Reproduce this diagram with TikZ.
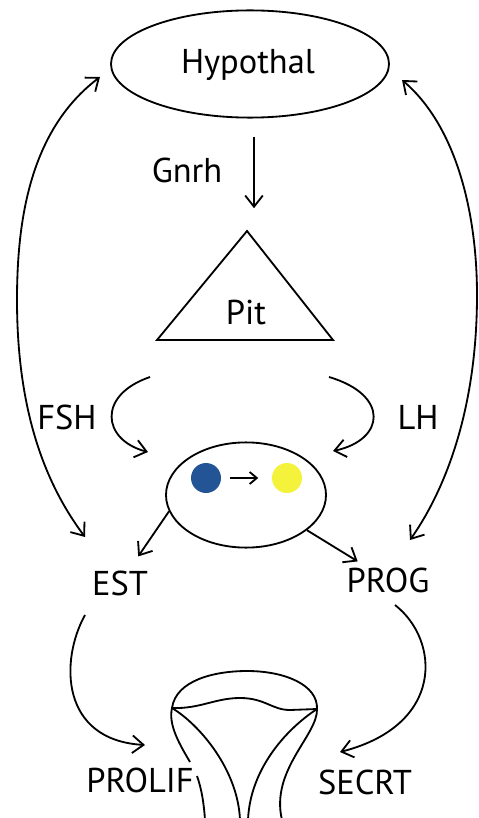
\documentclass[tikz,border=0pt]{standalone}
\usepackage{fontspec}
\setmainfont{PT Sans}
\usepackage{xcolor}
\usetikzlibrary{arrows.meta}
\usetikzlibrary{shapes.geometric}
\usetikzlibrary{positioning}

\definecolor{dotblue}{RGB}{34,84,150}
\definecolor{dotyellow}{RGB}{244,242,58}

\begin{document}
\begin{tikzpicture}[x=0.25mm, y=-0.25mm,
    line width=1.3pt,
    >={Straight Barb[length=2.8mm,width=4.4mm]}]
    \tikzstyle{every node}=[font=\fontsize{24.5}{28}\selectfont, inner sep=0pt]
    \tikzstyle{oval}=[ellipse, draw, line width=1.3pt]
    \tikzstyle{dot}=[circle, minimum size=7.5mm]
    \useasboundingbox (0,0) rectangle (479,818);
    \clip (0,0) rectangle (479,818);

    % brain, pituitary and the ovary
    \node[oval, minimum width=69.5mm, minimum height=26.8mm] (hyp) at (250,64) {};
    \node (hyptext) at (248,65) {Hypothal};
    \node (gnrh) at (187,170) {Gnrh};
    \coordinate (pA) at (247,231);
    \coordinate (pL) at (157,340);
    \coordinate (pR) at (333,340);
    \draw (pA) -- (pR) -- (pL) -- cycle;
    \node (pit) at (246,313) {Pit};
    \node[oval, minimum width=40mm, minimum height=26.3mm] (cell) at (246,495) {};
    \node[dot, fill=dotblue] (fol) at (206,478) {};
    \node[dot, fill=dotyellow] (cl) at (287,478) {};

    \node (fsh) at (67,417) {FSH};
    \node (lh) at (418,417) {LH};
    \node (est) at (120,583) {EST};
    \node (prog) at (388,580) {PROG};
    \node (prolif) at (140,780) {PROLIF};
    \node (secrt) at (365,782) {SECRT};

    % loose ends of the curved arrows
    \coordinate (hl) at (100,77);
    \coordinate (hr) at (402,80);
    \coordinate (el) at (85,537);
    \coordinate (er) at (410,540);
    \coordinate (fs0) at (150,377);
    \coordinate (fs1) at (148,452);
    \coordinate (lh0) at (329,377);
    \coordinate (lh1) at (333,451);
    \coordinate (es0) at (85,615);
    \coordinate (es1) at (145,745);
    \coordinate (pg0) at (395,605);
    \coordinate (pg1) at (340,752);

    \draw[->, shorten <=4.5mm, shorten >=5.7mm] (hyp.south -| 254,0) -- (pA -| 254,0);
    \draw[-{Straight Barb[length=1.8mm,width=3mm]}, shorten <=2mm, shorten >=3.2mm]
        (fol) -- (cl);
    \draw[->] (fs0) .. controls (97,395) and (102,440) .. (fs1);
    \draw[->] (lh0) .. controls (390,395) and (385,440) .. (lh1);
    \draw[->, shorten >=4mm] (cell.192) -- (est);
    \draw[->, shorten >=2.5mm] (cell.330) -- (prog);
    \draw[<->] (hl) .. controls (30,130) and (17,220) .. (17,300)
        .. controls (17,420) and (50,490) .. (el);
    \draw[<->] (hr) .. controls (455,125) and (477,210) .. (477,295)
        .. controls (477,410) and (445,490) .. (er);
    \draw[->] (es0) .. controls (60,660) and (60,740) .. (es1);
    \draw[->] (pg0) .. controls (440,640) and (445,725) .. (pg1);

    % uterus
    \coordinate (ul) at (172,708);
    \coordinate (ur) at (317,709);
    \draw (ul) .. controls (176,680) and (215,671) .. (247,671)
        .. controls (285,671) and (318,685) .. (ur);
    \draw (ul) .. controls (200,709) and (215,698) .. (240,698)
        .. controls (265,698) and (272,710) .. (290,710) -- (ur);
    \draw (ul) .. controls (168,725) and (180,745) .. (190,762);
    \draw (197,776) .. controls (202,790) and (204,805) .. (205,820);
    \draw (ul) .. controls (200,725) and (238,770) .. (240,820);
    \draw (ur) .. controls (285,730) and (250,770) .. (248,820);
    \draw (ur) .. controls (318,735) and (270,770) .. (282,820);
\end{tikzpicture}
\end{document}
